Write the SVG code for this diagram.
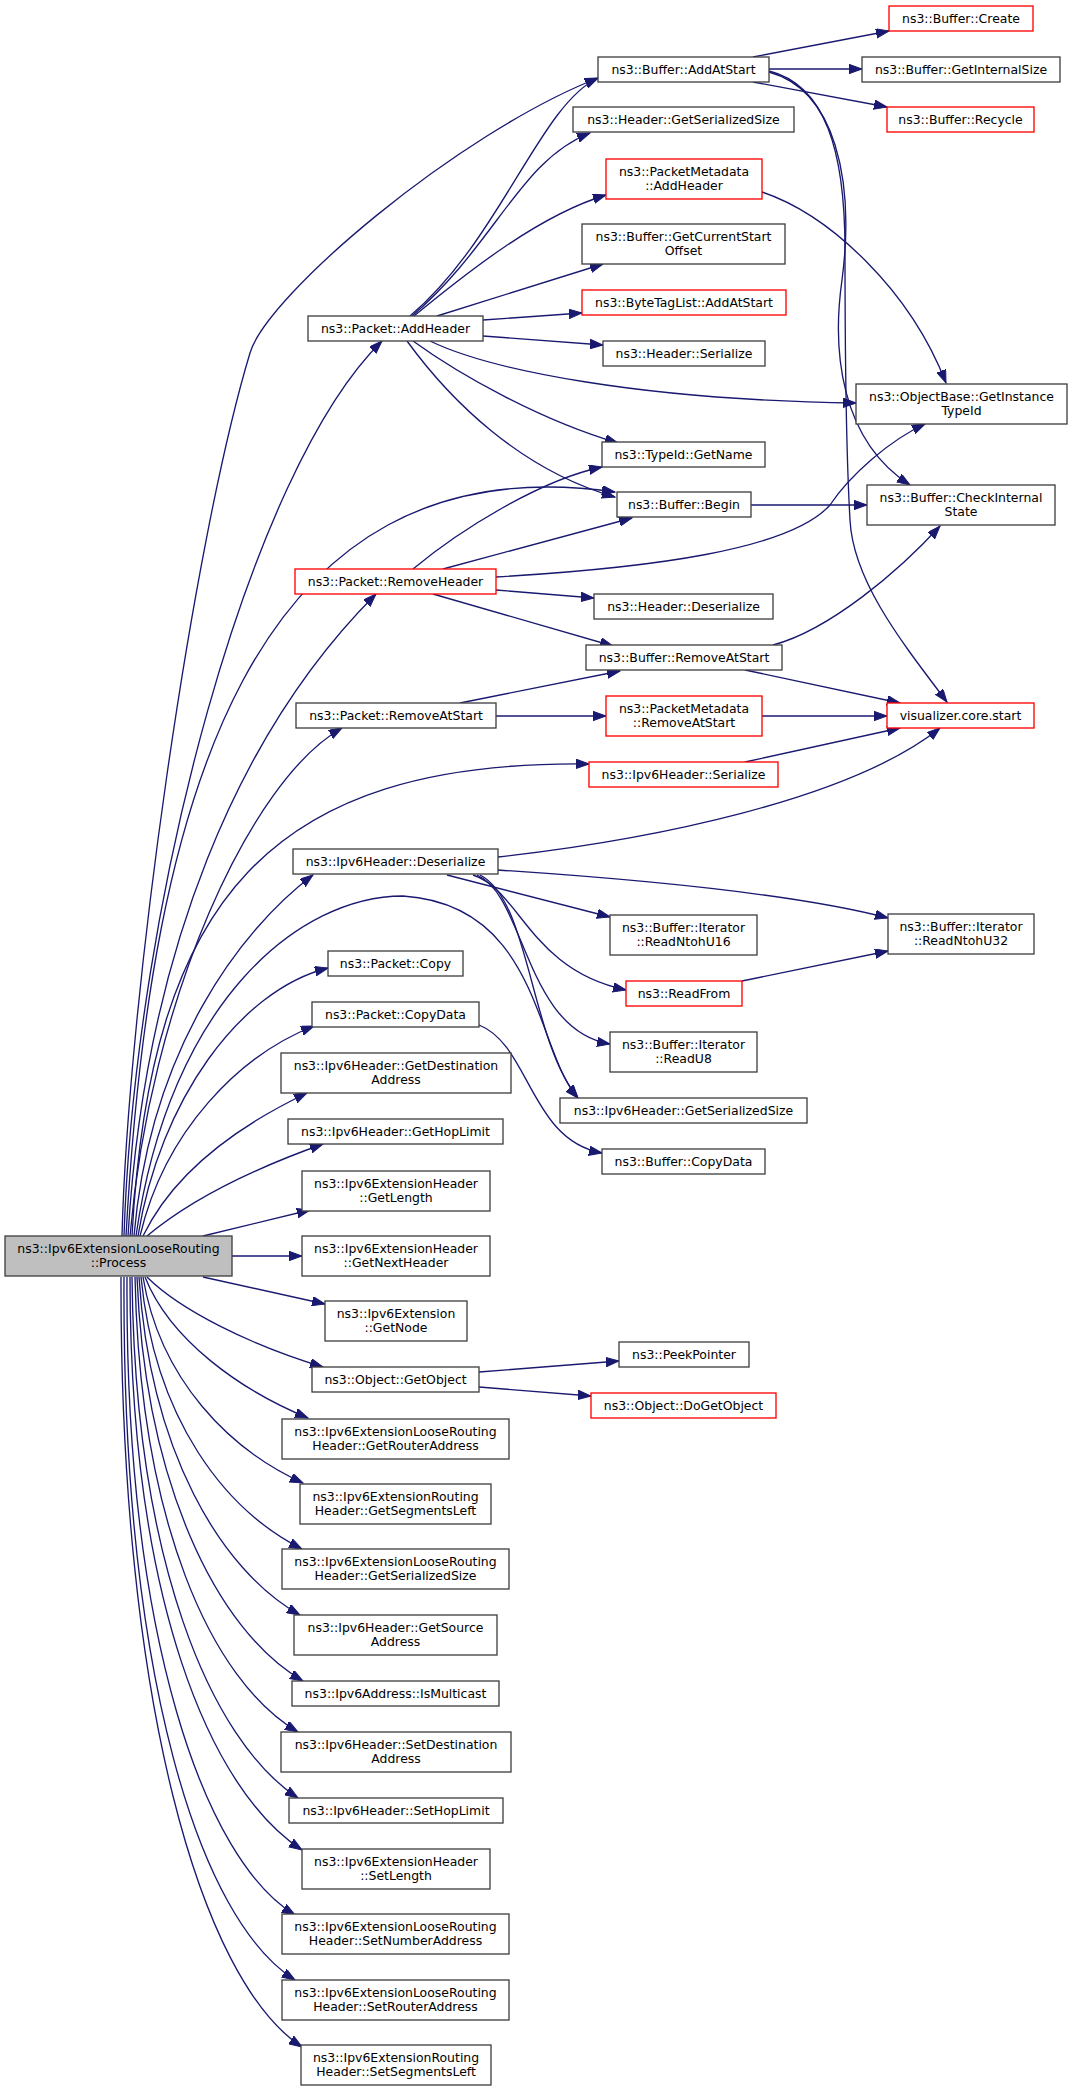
<svg xmlns="http://www.w3.org/2000/svg" width="1072" height="2091" viewBox="0 0 1072 2091">
<style>
.n rect{fill:#fff;stroke:#404040;stroke-width:1.33}
.n.r rect{stroke:#ff0000}
.n.m rect{fill:#bfbfbf}
text{font-family:"DejaVu Sans","Liberation Sans",sans-serif;font-size:12.45px;text-anchor:middle;fill:#000}
.e path{fill:none;stroke:#191970;stroke-width:1.33;marker-end:url(#a)}
</style>
<defs>
<marker id="a" markerUnits="userSpaceOnUse" markerWidth="14" markerHeight="10" refX="13" refY="4.7" orient="auto">
<path d="M0,0 L13,4.7 L0,9.4 z" fill="#191970" stroke="#191970" stroke-width="1"/>
</marker>
</defs>
<rect width="1072" height="2091" fill="#fff"/>
<g id="edges" class="e">
<!-- Process edges (top) -->
<path d="M122,1236 C128,1000 192,545 250,353 C267,295 458,133 598,78"/>
<path d="M124,1236 C135,900 250,470 382,341"/>
<path d="M126,1236 C150,800 250,440 615,492"/>
<path d="M128,1236 C145,950 240,730 376,594"/>
<path d="M130,1236 C150,1000 250,780 342,728"/>
<path d="M132,1236 C150,900 270,760 589,764"/>
<path d="M134,1236 C150,1050 240,930 313,875"/>
<path d="M136,1236 C170,1000 300,896 403,896 C540,905 535,1050 578,1098"/>
<path d="M138,1236 C160,1100 240,990 328,968"/>
<path d="M140,1236 C165,1130 240,1055 314,1026"/>
<path d="M143,1236 C175,1170 240,1125 307,1093"/>
<path d="M147,1236 C190,1200 250,1170 323,1144"/>
<path d="M203,1236 L310,1210"/>
<path d="M232,1256 L302,1256"/>
<path d="M203,1277 L325,1304"/>
<path d="M147,1277 C180,1310 250,1345 323,1367"/>
<path d="M145,1277 C170,1340 240,1390 308,1418"/>
<path d="M143,1277 C160,1380 230,1450 303,1483"/>
<path d="M141,1277 C155,1420 225,1510 302,1549"/>
<path d="M139,1277 C150,1450 220,1570 300,1615"/>
<path d="M137,1277 C145,1480 215,1630 303,1681"/>
<path d="M135,1277 C140,1520 210,1680 298,1732"/>
<path d="M132,1277 C135,1560 210,1740 298,1798"/>
<path d="M130,1277 C130,1600 210,1790 302,1850"/>
<path d="M127,1277 C125,1640 205,1860 295,1915"/>
<path d="M124,1277 C122,1680 200,1920 295,1980"/>
<path d="M121,1277 C120,1700 200,1980 302,2047"/>
<!-- Packet::AddHeader edges -->
<path d="M410,316 C500,240 540,105 598,78"/>
<path d="M412,316 C495,245 520,160 590,133"/>
<path d="M414,316 C470,270 540,215 606,195"/>
<path d="M437,316 L603,264"/>
<path d="M483,320 L582,313"/>
<path d="M483,336 L603,345"/>
<path d="M407,341 C450,400 520,470 615,497"/>
<path d="M413,341 C460,375 540,420 618,443"/>
<path d="M430,341 C490,370 640,400 856,403"/>
<!-- Buffer::AddAtStart edges -->
<path d="M753,57 L889,31"/>
<path d="M769,69 L862,69"/>
<path d="M753,82 L887,107"/>
<path d="M769,72 C835,90 855,180 842,280 C832,350 840,440 910,485"/>
<path d="M769,71 C825,85 845,150 845,250 C845,350 846,450 850,520 C853,580 900,640 947,702"/>
<!-- PacketMetadata::AddHeader -->
<path d="M762,192 C830,215 910,290 946,383"/>
<!-- Buffer::Begin -->
<path d="M751,505 L867,505"/>
<!-- Packet::RemoveHeader edges -->
<path d="M413,569 C460,530 540,480 602,467"/>
<path d="M443,569 L632,518"/>
<path d="M496,577 C650,568 790,550 830,505 C850,475 890,440 925,424"/>
<path d="M496,590 L594,598"/>
<path d="M433,594 L613,646"/>
<!-- Packet::RemoveAtStart edges -->
<path d="M460,703 L620,671"/>
<path d="M496,716 L606,716"/>
<!-- Buffer::RemoveAtStart edges -->
<path d="M773,645 C830,630 900,570 940,526"/>
<path d="M745,670 L900,703"/>
<!-- PacketMetadata::RemoveAtStart -->
<path d="M762,716 L887,716"/>
<!-- Ipv6Header::Serialize -->
<path d="M745,762 L900,728"/>
<!-- Ipv6Header::Deserialize edges -->
<path d="M498,857 C650,840 850,800 940,728"/>
<path d="M498,870 C650,880 800,895 888,918"/>
<path d="M447,875 L610,917"/>
<path d="M473,875 C520,890 530,970 626,990"/>
<path d="M477,875 C525,895 525,1030 610,1044"/>
<path d="M480,875 C530,900 530,1040 578,1098"/>
<!-- ReadFrom -->
<path d="M742,981 L888,951"/>
<!-- Packet::CopyData -->
<path d="M479,1025 C530,1045 530,1140 602,1153"/>
<!-- Object::GetObject -->
<path d="M479,1372 L619,1361"/>
<path d="M479,1387 L591,1396"/>
</g>
<g id="n_process" class="n m"><rect x="5" y="1236" width="227" height="40"/><text x="118.5" y="1253">ns3::Ipv6ExtensionLooseRouting</text><text x="118.5" y="1267">::Process</text></g>
<g id="n_addatstart" class="n"><rect x="598" y="57" width="171" height="25"/><text x="683.5" y="74">ns3::Buffer::AddAtStart</text></g>
<g id="n_hdr_getsersize" class="n"><rect x="573" y="107" width="221" height="25"/><text x="683.5" y="124">ns3::Header::GetSerializedSize</text></g>
<g id="n_pm_addheader" class="n r"><rect x="606" y="159" width="156" height="40"/><text x="684" y="176">ns3::PacketMetadata</text><text x="684" y="190">::AddHeader</text></g>
<g id="n_getcurstart" class="n"><rect x="582" y="224" width="203" height="40"/><text x="683.5" y="241">ns3::Buffer::GetCurrentStart</text><text x="683.5" y="255">Offset</text></g>
<g id="n_btl_addatstart" class="n r"><rect x="582" y="290" width="204" height="25"/><text x="684" y="307">ns3::ByteTagList::AddAtStart</text></g>
<g id="n_pkt_addheader" class="n"><rect x="308" y="316" width="175" height="25"/><text x="395.5" y="333">ns3::Packet::AddHeader</text></g>
<g id="n_hdr_serialize" class="n"><rect x="603" y="341" width="162" height="25"/><text x="684" y="358">ns3::Header::Serialize</text></g>
<g id="n_buf_create" class="n r"><rect x="889" y="6" width="144" height="25"/><text x="961" y="23">ns3::Buffer::Create</text></g>
<g id="n_buf_getintsize" class="n"><rect x="862" y="57" width="198" height="25"/><text x="961" y="74">ns3::Buffer::GetInternalSize</text></g>
<g id="n_buf_recycle" class="n r"><rect x="887" y="107" width="147" height="25"/><text x="960.5" y="124">ns3::Buffer::Recycle</text></g>
<g id="n_typeid_getname" class="n"><rect x="602" y="442" width="163" height="25"/><text x="683.5" y="459">ns3::TypeId::GetName</text></g>
<g id="n_buf_begin" class="n"><rect x="617" y="492" width="134" height="25"/><text x="684" y="509">ns3::Buffer::Begin</text></g>
<g id="n_pkt_removeheader" class="n r"><rect x="295" y="569" width="201" height="25"/><text x="395.5" y="586">ns3::Packet::RemoveHeader</text></g>
<g id="n_hdr_deserialize" class="n"><rect x="594" y="594" width="179" height="25"/><text x="683.5" y="611">ns3::Header::Deserialize</text></g>
<g id="n_buf_removeatstart" class="n"><rect x="586" y="645" width="196" height="25"/><text x="684" y="662">ns3::Buffer::RemoveAtStart</text></g>
<g id="n_pkt_removeatstart" class="n"><rect x="296" y="703" width="200" height="25"/><text x="396" y="720">ns3::Packet::RemoveAtStart</text></g>
<g id="n_pm_removeatstart" class="n r"><rect x="606" y="696" width="156" height="40"/><text x="684" y="713">ns3::PacketMetadata</text><text x="684" y="727">::RemoveAtStart</text></g>
<g id="n_objbase_getinst" class="n"><rect x="856" y="384" width="211" height="40"/><text x="961.5" y="401">ns3::ObjectBase::GetInstance</text><text x="961.5" y="415">TypeId</text></g>
<g id="n_buf_checkint" class="n"><rect x="867" y="485" width="188" height="40"/><text x="961" y="502">ns3::Buffer::CheckInternal</text><text x="961" y="516">State</text></g>
<g id="n_visualizer" class="n r"><rect x="887" y="703" width="147" height="25"/><text x="960.5" y="720">visualizer.core.start</text></g>
<g id="n_ip6_serialize" class="n r"><rect x="589" y="762" width="189" height="25"/><text x="683.5" y="779">ns3::Ipv6Header::Serialize</text></g>
<g id="n_ip6_deserialize" class="n"><rect x="293" y="849" width="205" height="25"/><text x="395.5" y="866">ns3::Ipv6Header::Deserialize</text></g>
<g id="n_readntohu16" class="n"><rect x="610" y="915" width="147" height="40"/><text x="683.5" y="932">ns3::Buffer::Iterator</text><text x="683.5" y="946">::ReadNtohU16</text></g>
<g id="n_readfrom" class="n r"><rect x="626" y="981" width="116" height="25"/><text x="684" y="998">ns3::ReadFrom</text></g>
<g id="n_readu8" class="n"><rect x="610" y="1032" width="147" height="40"/><text x="683.5" y="1049">ns3::Buffer::Iterator</text><text x="683.5" y="1063">::ReadU8</text></g>
<g id="n_ip6_getsersize" class="n"><rect x="560" y="1098" width="247" height="25"/><text x="683.5" y="1115">ns3::Ipv6Header::GetSerializedSize</text></g>
<g id="n_readntohu32" class="n"><rect x="888" y="914" width="146" height="40"/><text x="961" y="931">ns3::Buffer::Iterator</text><text x="961" y="945">::ReadNtohU32</text></g>
<g id="n_pkt_copy" class="n"><rect x="328" y="951" width="135" height="25"/><text x="395.5" y="968">ns3::Packet::Copy</text></g>
<g id="n_pkt_copydata" class="n"><rect x="312" y="1002" width="167" height="25"/><text x="395.5" y="1019">ns3::Packet::CopyData</text></g>
<g id="n_ip6_getdest" class="n"><rect x="281" y="1053" width="230" height="40"/><text x="396" y="1070">ns3::Ipv6Header::GetDestination</text><text x="396" y="1084">Address</text></g>
<g id="n_ip6_gethoplimit" class="n"><rect x="288" y="1119" width="215" height="25"/><text x="395.5" y="1136">ns3::Ipv6Header::GetHopLimit</text></g>
<g id="n_buf_copydata" class="n"><rect x="602" y="1149" width="163" height="25"/><text x="683.5" y="1166">ns3::Buffer::CopyData</text></g>
<g id="n_ext_getlength" class="n"><rect x="302" y="1171" width="188" height="40"/><text x="396" y="1188">ns3::Ipv6ExtensionHeader</text><text x="396" y="1202">::GetLength</text></g>
<g id="n_ext_getnextheader" class="n"><rect x="302" y="1236" width="188" height="40"/><text x="396" y="1253">ns3::Ipv6ExtensionHeader</text><text x="396" y="1267">::GetNextHeader</text></g>
<g id="n_ext_getnode" class="n"><rect x="325" y="1301" width="142" height="40"/><text x="396" y="1318">ns3::Ipv6Extension</text><text x="396" y="1332">::GetNode</text></g>
<g id="n_obj_getobject" class="n"><rect x="312" y="1367" width="167" height="25"/><text x="395.5" y="1384">ns3::Object::GetObject</text></g>
<g id="n_peekpointer" class="n"><rect x="619" y="1342" width="130" height="25"/><text x="684" y="1359">ns3::PeekPointer</text></g>
<g id="n_dogetobject" class="n r"><rect x="591" y="1393" width="185" height="25"/><text x="683.5" y="1410">ns3::Object::DoGetObject</text></g>
<g id="n_lr_getrouter" class="n"><rect x="282" y="1419" width="227" height="40"/><text x="395.5" y="1436">ns3::Ipv6ExtensionLooseRouting</text><text x="395.5" y="1450">Header::GetRouterAddress</text></g>
<g id="n_rt_getsegleft" class="n"><rect x="300" y="1484" width="191" height="40"/><text x="395.5" y="1501">ns3::Ipv6ExtensionRouting</text><text x="395.5" y="1515">Header::GetSegmentsLeft</text></g>
<g id="n_lr_getsersize" class="n"><rect x="282" y="1549" width="227" height="40"/><text x="395.5" y="1566">ns3::Ipv6ExtensionLooseRouting</text><text x="395.5" y="1580">Header::GetSerializedSize</text></g>
<g id="n_ip6_getsource" class="n"><rect x="294" y="1615" width="203" height="40"/><text x="395.5" y="1632">ns3::Ipv6Header::GetSource</text><text x="395.5" y="1646">Address</text></g>
<g id="n_ismulticast" class="n"><rect x="292" y="1681" width="207" height="25"/><text x="395.5" y="1698">ns3::Ipv6Address::IsMulticast</text></g>
<g id="n_ip6_setdest" class="n"><rect x="281" y="1732" width="230" height="40"/><text x="396" y="1749">ns3::Ipv6Header::SetDestination</text><text x="396" y="1763">Address</text></g>
<g id="n_ip6_sethoplimit" class="n"><rect x="289" y="1798" width="214" height="25"/><text x="396" y="1815">ns3::Ipv6Header::SetHopLimit</text></g>
<g id="n_ext_setlength" class="n"><rect x="302" y="1849" width="188" height="40"/><text x="396" y="1866">ns3::Ipv6ExtensionHeader</text><text x="396" y="1880">::SetLength</text></g>
<g id="n_lr_setnumber" class="n"><rect x="282" y="1914" width="227" height="40"/><text x="395.5" y="1931">ns3::Ipv6ExtensionLooseRouting</text><text x="395.5" y="1945">Header::SetNumberAddress</text></g>
<g id="n_lr_setrouter" class="n"><rect x="282" y="1980" width="227" height="40"/><text x="395.5" y="1997">ns3::Ipv6ExtensionLooseRouting</text><text x="395.5" y="2011">Header::SetRouterAddress</text></g>
<g id="n_rt_setsegleft" class="n"><rect x="301" y="2045" width="190" height="40"/><text x="396" y="2062">ns3::Ipv6ExtensionRouting</text><text x="396" y="2076">Header::SetSegmentsLeft</text></g>
</svg>
